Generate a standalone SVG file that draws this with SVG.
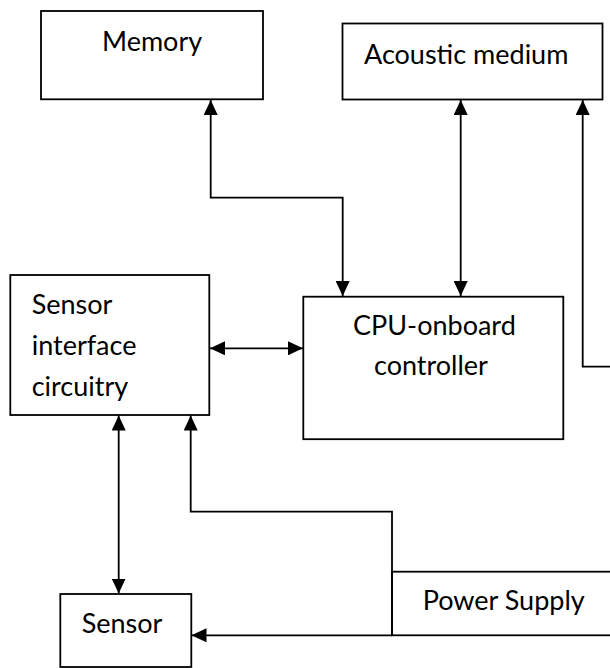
<svg xmlns="http://www.w3.org/2000/svg" width="610" height="668" viewBox="0 0 610 668">
  <style>
    .box { fill: #ffffff; stroke: #000000; stroke-width: 1.8; }
    .lbl { font-family: Lato, "Liberation Sans", sans-serif; font-size: 27px; fill: #000000; }
    .con { fill: none; stroke: #000000; stroke-width: 1.8; }
  </style>
  <defs>
    <marker id="ah" markerUnits="userSpaceOnUse" markerWidth="16" markerHeight="14" refX="15" refY="7" orient="auto-start-reverse" viewBox="0 0 16 14">
      <path d="M0,0 L15,7 L0,14 z" fill="#000000"/>
    </marker>
  </defs>
  <rect width="610" height="668" fill="#ffffff"/>

  <g id="memory">
    <rect class="box" x="41" y="11" width="222" height="88.3"/>
    <text class="lbl" x="102" y="51">Memory</text>
  </g>
  <g id="acoustic-medium">
    <rect class="box" x="342.5" y="23.5" width="260" height="76"/>
    <text class="lbl" x="364" y="64">Acoustic medium</text>
  </g>
  <g id="sensor-interface">
    <rect class="box" x="10.3" y="275" width="199" height="140"/>
    <text class="lbl" x="31.7" y="314">Sensor</text>
    <text class="lbl" x="31.7" y="355">interface</text>
    <text class="lbl" x="31.7" y="396">circuitry</text>
  </g>
  <g id="cpu">
    <rect class="box" x="303.3" y="296.7" width="260" height="142.5"/>
    <text class="lbl" x="353" y="335">CPU-onboard</text>
    <text class="lbl" x="374" y="375">controller</text>
  </g>
  <g id="power-supply">
    <rect class="box" x="392" y="571.7" width="230" height="63.6"/>
    <text class="lbl" x="422.7" y="610">Power Supply</text>
  </g>
  <g id="sensor">
    <rect class="box" x="60.3" y="594" width="131" height="73"/>
    <text class="lbl" x="81.7" y="633">Sensor</text>
  </g>

  <g id="connectors">
    <path class="con" d="M210.7,100 V197.7 H342.7 V296" marker-start="url(#ah)" marker-end="url(#ah)"/>
    <path class="con" d="M460.7,100 V296" marker-start="url(#ah)" marker-end="url(#ah)"/>
    <path class="con" d="M610,366.7 H582.7 V100" marker-end="url(#ah)"/>
    <path class="con" d="M210,348.3 H303" marker-start="url(#ah)" marker-end="url(#ah)"/>
    <path class="con" d="M118.7,415.5 V593.5" marker-start="url(#ah)" marker-end="url(#ah)"/>
    <path class="con" d="M392,635.3 V511.7 H190.7 V415.5" marker-end="url(#ah)"/>
    <path class="con" d="M392,635.3 H191.5" marker-end="url(#ah)"/>
  </g>
</svg>
